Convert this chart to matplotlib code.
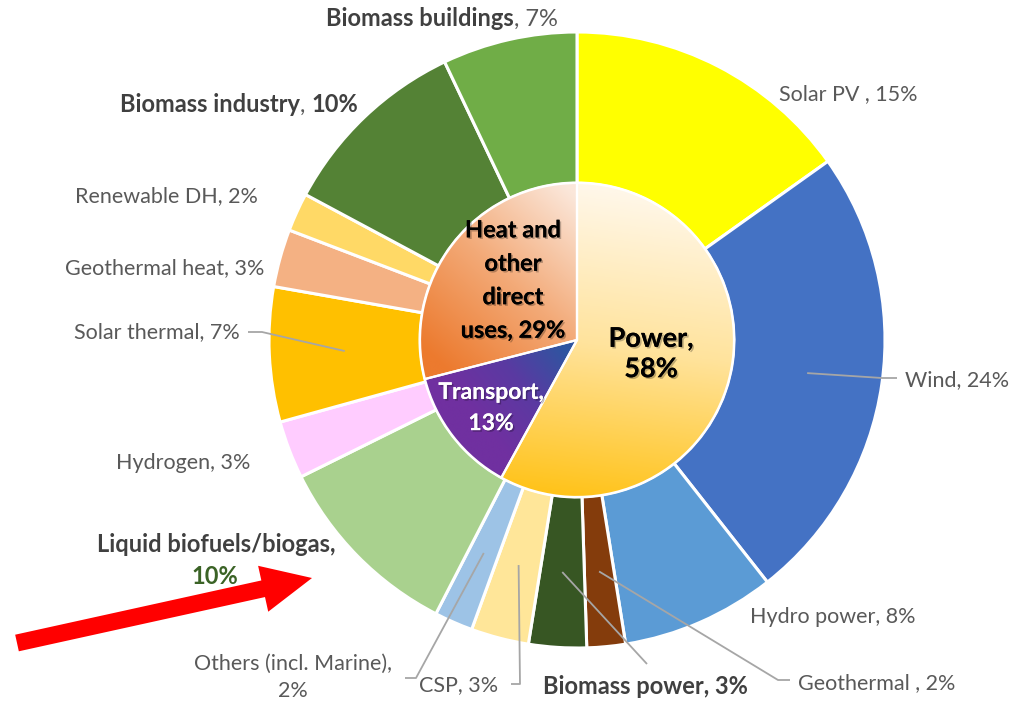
import matplotlib
matplotlib.use('Agg')
import matplotlib.pyplot as plt
import matplotlib.patheffects as pe
from matplotlib.colors import LinearSegmentedColormap
from matplotlib.patches import FancyArrow
import numpy as np

plt.rcParams['font.family'] = ['Lato', 'DejaVu Sans']

# inner pie: end-use sectors (clockwise from 12 o'clock)
sectors = ['Power', 'Transport', 'Heat and\nother\ndirect\nuses']
sector_share = [58, 13, 29]

# outer ring: technologies (clockwise from 12 o'clock)
techs = ['Solar PV ', 'Wind', 'Hydro power', 'Geothermal ', 'Biomass power', 'CSP',
         'Others (incl. Marine)', 'Liquid biofuels/biogas', 'Hydrogen', 'Solar thermal',
         'Geothermal heat', 'Renewable DH', 'Biomass industry', 'Biomass buildings']
tech_share = [15, 24, 8, 2, 3, 3, 2, 10, 3, 7, 3, 2, 10, 7]
tech_colors = ['#FFFF00', '#4472C4', '#5B9BD5', '#843C0C', '#375623', '#FFE699',
               '#9DC3E6', '#A9D18E', '#FFCCFF', '#FFC000', '#F4B183', '#FFD966',
               '#548235', '#70AD47']

W, H = 1013, 703
CX, CY = 577, H - 340       # pie centre (data units = pixels, y up)
R_OUT, R_IN = 308, 157

GREY = '#595959'
DARK = '#404040'
FS = 15.5    # normal outer labels
FSB = 17     # bold outer labels


def py(y):
    # pixel row (from top) -> data y
    return H - y


def gradient_fill(ax, wedge, p0, p1, colors):
    n = 400
    xs = np.linspace(CX - R_IN, CX + R_IN, n)
    ys = np.linspace(CY - R_IN, CY + R_IN, n)
    X, Y = np.meshgrid(xs, ys)
    d = np.array(p1) - np.array(p0)
    t = ((X - p0[0]) * d[0] + (Y - p0[1]) * d[1]) / (d @ d)
    t = np.clip(t, 0, 1)
    cmap = LinearSegmentedColormap.from_list('grad', colors)
    im = ax.imshow(t, cmap=cmap, vmin=0, vmax=1, origin='lower',
                   extent=(xs[0], xs[-1], ys[0], ys[-1]), zorder=1,
                   interpolation='bilinear')
    im.set_clip_path(wedge)


fig = plt.figure(figsize=(W / 100, H / 100), dpi=100)
ax = fig.add_axes([0, 0, 1, 1])

outer, _ = ax.pie(tech_share, radius=R_OUT, center=(CX, CY), startangle=90,
                  counterclock=False, colors=tech_colors,
                  wedgeprops=dict(width=R_OUT - R_IN, edgecolor='white', linewidth=2.2))

inner, _ = ax.pie(sector_share, radius=R_IN, center=(CX, CY), startangle=90,
                  counterclock=False,
                  wedgeprops=dict(edgecolor='white', linewidth=1.6, zorder=2))

# gradient fills for the inner pie (points given as offsets from centre)
grads = [
    ((CX + 23, CY + 150), (CX - 17, CY - 155), ['#FFF7E8', '#FFE39C', '#FFC31A']),
    ((CX - 12, CY - 10), (CX - 97, CY - 80), ['#2F55A0', '#5A3AA2', '#7030A0']),
    ((CX - 7, CY + 150), (CX - 152, CY - 10), ['#FBE7DA', '#F3AA78', '#EC7A2E']),
]
for w, (p0, p1, cols) in zip(inner, grads):
    w.set_facecolor('none')
    gradient_fill(ax, w, p0, p1, cols)

# inner labels
shadow = [pe.withSimplePatchShadow(offset=(1.2, -1.2), shadow_rgbFace='k', alpha=0.25), pe.Normal()]
ax.text(513, py(280), f"{sectors[2]}, {sector_share[2]}%", ha='center', va='center',
        fontsize=17, fontweight='bold', color='black', linespacing=1.55, path_effects=shadow, zorder=5)
ax.text(651, py(354), f"{sectors[0]},\n{sector_share[0]}%", ha='center', va='center',
        fontsize=19.5, fontweight='bold', color='black', linespacing=1.32, path_effects=shadow, zorder=5)
ax.text(491, py(408), f"{sectors[1]},\n{sector_share[1]}%", ha='center', va='center',
        fontsize=16.5, fontweight='bold', color='white', linespacing=1.6, path_effects=shadow, zorder=5)

# outer label layout: (x, y from top, ha)
label_pos = {
    'Solar PV ': (779, 94, 'left'),
    'Wind': (905, 380, 'left'),
    'Hydro power': (750, 617, 'left'),
    'Geothermal ': (798, 683, 'left'),
    'CSP': (498, 685, 'right'),
    'Hydrogen': (250, 463, 'right'),
    'Solar thermal': (240, 332, 'right'),
    'Geothermal heat': (264, 268, 'right'),
    'Renewable DH': (258, 196, 'right'),
}
for name, val in zip(techs, tech_share):
    if name in label_pos:
        x, y, ha = label_pos[name]
        ax.text(x, py(y), f"{name}, {val}%", ha=ha, va='center', fontsize=FS,
                color=GREY, zorder=5)

v = dict(zip(techs, tech_share))

# Others: two centred lines
ax.text(293, py(677), f"Others (incl. Marine),\n{v['Others (incl. Marine)']}%", ha='center',
        va='center', fontsize=FS, color=GREY, linespacing=1.45, zorder=5)

# Biomass power (bold)
ax.text(543, py(686), f"Biomass power, {v['Biomass power']}%", ha='left', va='center',
        fontsize=FSB, fontweight='bold', color=DARK, zorder=5)

# Liquid biofuels (bold, value in green)
ax.text(216, py(545), 'Liquid biofuels/biogas,', ha='center', va='center',
        fontsize=FSB, fontweight='bold', color=DARK, zorder=5)
ax.text(215, py(576), f"{v['Liquid biofuels/biogas']}%", ha='center', va='center',
        fontsize=FSB, fontweight='bold', color='#3B6326', zorder=5)

# Biomass buildings: bold name + normal value
t1 = ax.text(326, py(18), 'Biomass buildings', ha='left', va='center',
             fontsize=FSB, fontweight='bold', color=DARK, zorder=5)
ax.annotate(f", {v['Biomass buildings']}%", xy=(1, 0), xycoords=t1, ha='left', va='bottom',
            fontsize=FSB, color=GREY, zorder=5)

# Biomass industry: bold name, normal comma, bold value (chained right to left)
t3 = ax.text(358, py(105), f"{v['Biomass industry']}%", ha='right', va='center',
             fontsize=FSB, fontweight='bold', color=DARK, zorder=5)
t2 = ax.annotate(', ', xy=(0, 0), xycoords=t3, ha='right', va='bottom',
                 fontsize=FSB, color=GREY, zorder=5)
ax.annotate('Biomass industry', xy=(0, 0), xycoords=t2, ha='right', va='bottom',
            fontsize=FSB, fontweight='bold', color=DARK, zorder=5)

# leader lines from the middle of each wedge
r_mid = R_OUT - (R_OUT - R_IN) / 2
leaders = {
    'Wind': [(882, 378), (897, 378)],
    'Geothermal ': [(778, 680), (790, 680)],
    'Biomass power': [(647, 664)],
    'CSP': [(520, 684), (511, 684)],
    'Others (incl. Marine)': [(416, 678), (405, 678)],
    'Solar thermal': [(262, 332), (248, 332)],
}
for w, name in zip(outer, techs):
    if name in leaders:
        a = np.deg2rad((w.theta1 + w.theta2) / 2)
        xs = [CX + r_mid * np.cos(a)] + [p[0] for p in leaders[name]]
        ys = [CY + r_mid * np.sin(a)] + [py(p[1]) for p in leaders[name]]
        ax.plot(xs, ys, color='#A6A6A6', lw=1.3, zorder=4, solid_capstyle='butt')

# red arrow pointing at liquid biofuels
ax.add_patch(FancyArrow(17, py(643), 295, 65, width=17, head_width=47, head_length=50,
                        length_includes_head=True, color='#FF0000', lw=0, zorder=6))

ax.set_xlim(0, W)
ax.set_ylim(0, H)
ax.set_aspect('equal')
ax.axis('off')

fig.savefig('out.png', dpi=100)
